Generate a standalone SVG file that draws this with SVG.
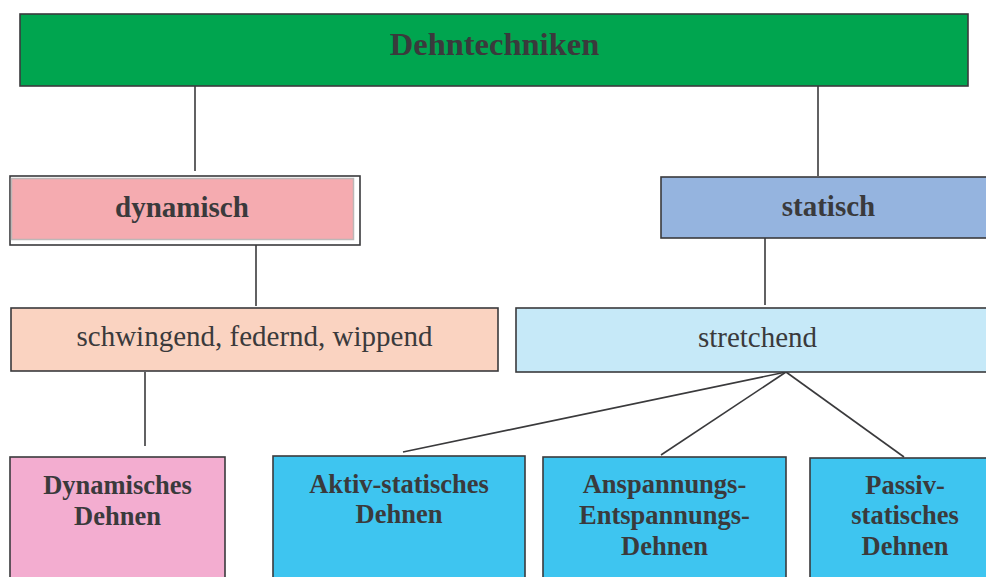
<svg xmlns="http://www.w3.org/2000/svg" width="986" height="577" viewBox="0 0 986 577">
<style>
.b{stroke:#3a3a3c;stroke-width:1.6}
text{font-family:'Liberation Serif','Times New Roman','DejaVu Serif',serif;fill:#3a3a3c;text-anchor:middle}
.bold{font-weight:bold}
.m{font-size:29px}
.s{font-size:26.5px;font-weight:bold}
.c line{stroke:#3a3a3c;stroke-width:1.6}
</style>
<rect width="986" height="577" fill="#fff"/>
<g class="c" id="connectors">
<line x1="195" y1="86" x2="195" y2="171"/>
<line x1="818" y1="86" x2="818" y2="176"/>
<line x1="256" y1="245" x2="256" y2="306"/>
<line x1="765" y1="238" x2="765" y2="305"/>
<line x1="145" y1="372" x2="145" y2="446"/>
<line x1="786" y1="372" x2="403" y2="452"/>
<line x1="786" y1="372" x2="661" y2="455"/>
<line x1="786" y1="372" x2="904" y2="457"/>
</g>
<g id="dehntechniken">
<rect class="b" x="20" y="14" width="948" height="72" fill="#00A54F"/>
<text class="bold" x="494.5" y="55" font-size="32.5">Dehntechniken</text>
</g>
<g id="dynamisch">
<rect class="b" x="10" y="176" width="350" height="69" fill="#fff"/>
<rect x="11.5" y="178.5" width="342" height="61" fill="#F5ABB0" stroke="#bdb7b7" stroke-width="1.5"/>
<text class="bold m" x="182" y="217">dynamisch</text>
</g>
<g id="statisch">
<rect class="b" x="661" y="177" width="330" height="61" fill="#95B4DF"/>
<text class="bold m" x="828.5" y="216">statisch</text>
</g>
<g id="schwingend">
<rect class="b" x="11" y="308" width="487" height="63" fill="#FAD3C1"/>
<text class="m" x="254.5" y="346">schwingend, federnd, wippend</text>
</g>
<g id="stretchend">
<rect class="b" x="516" y="308" width="475" height="64" fill="#C6E9F8"/>
<text class="m" x="757.5" y="346.5">stretchend</text>
</g>
<g id="dynamisches-dehnen">
<rect class="b" x="10" y="457" width="215" height="130" fill="#F3ADD0"/>
<text class="s" x="117.5" y="493.5">Dynamisches</text>
<text class="s" x="117.5" y="524.5">Dehnen</text>
</g>
<g id="aktiv-statisches-dehnen">
<rect class="b" x="273" y="456" width="252" height="131" fill="#3EC5F0"/>
<text class="s" x="399" y="492.5">Aktiv-statisches</text>
<text class="s" x="399" y="523">Dehnen</text>
</g>
<g id="anspannungs-entspannungs-dehnen">
<rect class="b" x="543" y="457" width="243" height="130" fill="#3EC5F0"/>
<text class="s" x="664.5" y="493">Anspannungs-</text>
<text class="s" x="664.5" y="523.5">Entspannungs-</text>
<text class="s" x="664.5" y="554.5">Dehnen</text>
</g>
<g id="passiv-statisches-dehnen">
<rect class="b" x="810" y="458" width="186" height="129" fill="#3EC5F0"/>
<text class="s" x="905" y="493.5">Passiv-</text>
<text class="s" x="905" y="524">statisches</text>
<text class="s" x="905" y="555">Dehnen</text>
</g>
</svg>
